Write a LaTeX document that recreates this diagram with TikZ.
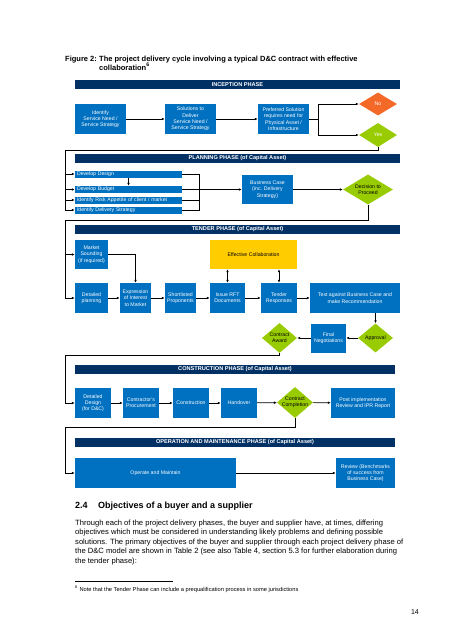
\documentclass[tikz,border=0pt]{standalone}
\usepackage{fontspec}
\setmainfont{Liberation Sans}
\usetikzlibrary{arrows.meta,shapes.geometric,calc}
\definecolor{boxblue}{RGB}{0,112,192}
\definecolor{barblue}{RGB}{0,48,100}
\definecolor{dgreen}{RGB}{153,204,0}
\definecolor{dorange}{RGB}{245,105,40}
\definecolor{dyellow}{RGB}{255,204,0}
\begin{document}
\begin{tikzpicture}[x=1pt,y=-1pt,
  bx/.style={fill=boxblue,text=white,inner sep=0pt,align=center,font=\fontsize{5.2}{6.3}\selectfont},
  rowbx/.style={fill=boxblue,text=white,inner sep=0pt,minimum height=7pt,minimum width=107pt,text width=103pt,align=left,font=\fontsize{5.2}{6}\selectfont},
  bar/.style={fill=barblue,text=white,inner sep=0pt,minimum height=9pt,font=\bfseries\fontsize{5.6}{6}\selectfont},
  dia/.style={diamond,fill=dgreen,inner sep=0pt},
  dtext/.style={inner sep=0pt,align=center,font=\fontsize{5.2}{6.3}\selectfont},
  arr/.style={line width=0.7pt,-{Latex[length=3pt,width=2.6pt]}},
  ln/.style={line width=0.7pt},
  darr/.style={line width=0.7pt,{Latex[length=3pt,width=2.6pt]}-{Latex[length=3pt,width=2.6pt]}},
  body/.style={anchor=base west,inner sep=0pt,font=\fontsize{7.6}{9}\selectfont}
]
\useasboundingbox[fill=white] (0,0) rectangle (452,640);

% title
\node[body,font=\bfseries\fontsize{7.5}{8}\selectfont] (t1) at (65,61) {Figure 2:};
\node[body,font=\bfseries\fontsize{7.5}{8}\selectfont] (t2) at (99,61) {The project delivery cycle involving a typical D\&C contract with effective};
\node[body,font=\bfseries\fontsize{7.5}{8}\selectfont] (t3) at (99,70) {collaboration\textsuperscript{6}};

% inception
\node[bar,minimum width=325pt] (b1) at (237.5,84.5) {INCEPTION PHASE};
\node[bx,minimum width=51pt,minimum height=30pt] (ident) at (100.5,119) {Identify\\Service Need /\\Service Strategy};
\node[bx,minimum width=51pt,minimum height=30pt] (sol) at (190.5,119) {Solutions to\\Deliver\\Service Need /\\Service Strategy};
\node[bx,minimum width=51pt,minimum height=30pt] (pref) at (283.5,119) {Preferred Solution\\requires need for\\Physical Asset /\\Infrastructure};
\node[dia,fill=dorange,minimum width=38pt,minimum height=23pt,label={[dtext,text=white]center:No}] (no) at (378,104) {};
\node[dia,minimum width=38pt,minimum height=24pt,label={[dtext,text=white]center:Yes}] (yes) at (378,135) {};
\draw[arr] (ident) -- (sol);
\draw[arr] (sol) -- (pref);
\coordinate (br) at (318,119);
\draw[arr] (pref.east) -- (br) |- (no.west);
\draw[arr] (br) |- (yes.west);

% planning
\node[bar,minimum width=325pt] (b2) at (237.5,158) {PLANNING PHASE (of Capital Asset)};
\node[rowbx] (des) at (128.5,174) {Develop Design};
\node[rowbx] (bud) at (128.5,189.5) {Develop Budget};
\node[rowbx] (risk) at (128.5,200) {Identify Risk Appetite of client / market};
\node[rowbx] (deliv) at (128.5,210) {Identify Delivery Strategy};
\node[bx,minimum width=51pt,minimum height=29pt] (bc) at (267.5,189.5) {Business Case\\(inc. Delivery\\Strategy)};
\node[dia,minimum width=50pt,minimum height=30pt,label={[dtext]center:Decision to\\Proceed}] (dec) at (368,189.5) {};
\coordinate (spA) at (65,150);
\draw[ln] (yes.south) |- (spA) -- (spA |- deliv.west);
\foreach \n in {des,bud,risk,deliv} \draw[arr] (spA |- \n.west) -- (\n.west);
\draw[arr] (des.south) -- (bud.north);
\coordinate (pc) at (199,174);
\draw[ln] (des.east) -- (pc) -- (pc |- deliv.east) -- (deliv.east);
\draw[ln] (risk.east) -- (risk.east -| pc);
\draw[arr] (bud.east) -- (bc.west);
\draw[arr] (bc) -- (dec);

% tender
\node[bar,minimum width=325pt] (b3) at (237.5,229) {TENDER PHASE (of Capital Asset)};
\node[bx,minimum width=33pt,minimum height=29pt] (ms) at (91.5,254.5) {Market\\Sounding\\(if required)};
\node[bx,fill=dyellow,text=black,minimum width=87pt,minimum height=29pt] (ec) at (253.5,254.5) {Effective Collaboration};
\node[bx,minimum width=33pt,minimum height=30pt] (dp) at (91.5,298) {Detailed\\planning};
\node[bx,minimum width=31pt,minimum height=30pt] (exp) at (135.5,298) {Expression\\of Interest\\to Market};
\node[bx,minimum width=31pt,minimum height=30pt] (sp) at (180.5,298) {Shortlisted\\Proponents};
\node[bx,minimum width=35pt,minimum height=30pt] (rft) at (227.5,298) {Issue RFT\\Documents};
\node[bx,minimum width=36pt,minimum height=30pt] (tr) at (279,298) {Tender\\Responses};
\node[bx,minimum width=90pt,minimum height=30pt] (test) at (355,298) {Test against Business Case and\\make Recommendation};
\node[dia,minimum width=35pt,minimum height=29pt,label={[dtext]center:Approval}] (app) at (375.5,338) {};
\node[bx,minimum width=35pt,minimum height=29pt] (fn) at (328.5,338) {Final\\Negotiations};
\node[dia,minimum width=35pt,minimum height=30pt,label={[dtext]center:Contract\\Award}] (ca) at (279.5,338) {};
\coordinate (spB) at (65,220);
\draw[arr] (dec.south) |- (spB) |- (dp.west);
\draw[arr] (spB |- ms.west) -- (ms.west);
\draw[arr] (ms.east) -| (exp.north);
\draw[arr] (dp) -- (exp);
\draw[arr] (exp) -- (sp);
\draw[arr] (sp) -- (rft);
\draw[arr] (rft) -- (tr);
\draw[arr] (tr) -- (test);
\draw[darr] (rft.north |- ec.south) -- (rft.north);
\draw[darr] (tr.north |- ec.south) -- (tr.north);
\draw[arr] (test.south -| app.north) -- (app.north);
\draw[arr] (app.west) -- (fn.east);
\draw[arr] (fn.west) -- (ca.east);

% construction
\node[bar,minimum width=320pt] (b4) at (235,369.5) {CONSTRUCTION PHASE (of Capital Asset)};
\node[bx,minimum width=36pt,minimum height=30pt] (dd) at (93,403) {Detailed\\Design\\(for D\&C)};
\node[bx,minimum width=36pt,minimum height=30pt] (cp) at (141,403) {Contractor's\\Procurement};
\node[bx,minimum width=36pt,minimum height=30pt] (con) at (191,403) {Construction};
\node[bx,minimum width=36pt,minimum height=30pt] (ho) at (239,403) {Handover};
\node[dia,minimum width=36pt,minimum height=31pt,label={[dtext]center:Contract\\Completion}] (cc) at (295,402.5) {};
\node[bx,minimum width=64pt,minimum height=30pt] (pi) at (363,403) {Post implementation\\Review and IPR Report};
\coordinate (spC) at (65,355);
\draw[arr] (ca.south) |- (spC) |- (dd.west);
\draw[arr] (dd) -- (cp);
\draw[arr] (cp) -- (con);
\draw[arr] (con) -- (ho);
\draw[arr] (ho) -- (cc);
\draw[arr] (cc) -- (pi);

% operation
\node[bar,minimum width=320pt] (b5) at (235,442.5) {OPERATION AND MAINTENANCE PHASE (of Capital Asset)};
\node[bx,minimum width=161pt,minimum height=30pt] (op) at (155.5,473) {Operate and Maintain};
\node[bx,minimum width=59pt,minimum height=30pt] (rev) at (365.5,473) {Review (Benchmarks\\of success from\\Business Case)};
\coordinate (spD) at (65,427);
\draw[arr] (cc.south) |- (spD) |- (op.west);
\draw[arr] (op) -- (rev);

% text below
\node[body,font=\bfseries\fontsize{9}{10}\selectfont] (h1) at (75,508.5) {2.4};
\node[body,font=\bfseries\fontsize{9}{10}\selectfont] (h2) at (98,508.5) {Objectives of a buyer and a supplier};
\node[body] (p1) at (75,525) {Through each of the project delivery phases, the buyer and supplier have, at times, differing};
\node[body] (p2) at (75,534.5) {objectives which must be considered in understanding likely problems and defining possible};
\node[body] (p3) at (75,544) {solutions. The primary objectives of the buyer and supplier through each project delivery phase of};
\node[body] (p4) at (75,553.5) {the D\&C model are shown in Table 2 (see also Table 4, section 5.3 for further elaboration during};
\node[body] (p5) at (75,563) {the tender phase):};
\coordinate (fr1) at (75,581);
\coordinate (fr2) at (173,581);
\draw[line width=0.6pt] (fr1) -- (fr2);
\node[body,font=\fontsize{5.7}{6}\selectfont] (fn6) at (75,591) {\textsuperscript{6} Note that the Tender Phase can include a prequalification process in some jurisdictions};
\node[anchor=base east,inner sep=0pt,font=\fontsize{7}{8}\selectfont] (pg) at (419,614) {14};
\end{tikzpicture}
\end{document}
